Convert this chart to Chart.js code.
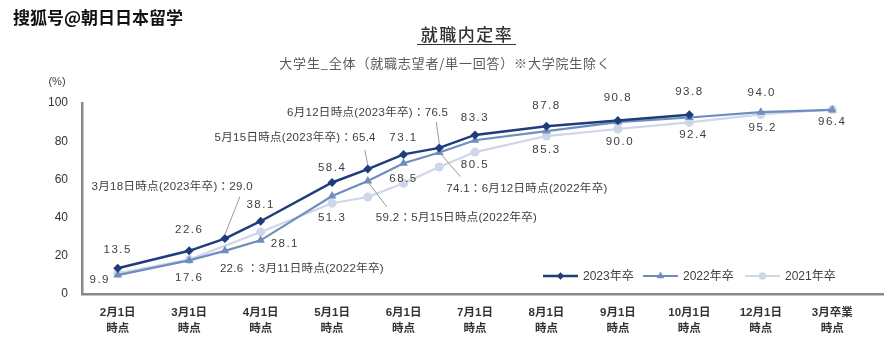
<!DOCTYPE html>
<html>
<head>
<meta charset="utf-8">
<script src="https://cdn.jsdelivr.net/npm/chart.js@4"></script>
<style>
  body { margin: 0; background: #fff; }
  #chart { display: block; }
</style>
</head>
<body>
<canvas id="chart" width="888" height="341"></canvas>
<script>
// x tick labels (one per month slot), second line is always 時点
const categories = ['2月1日', '3月1日', '4月1日', '5月1日', '6月1日', '7月1日', '8月1日', '9月1日', '10月1日', '12月1日', '3月卒業']

// slot positions: half steps are mid-month survey dates
const pos2023 = [0, 1, 1.5, 2, 3, 3.5, 4, 4.5, 5, 6, 7, 8]
const rate2023 = [13.5, 22.6, 29.0, 38.1, 58.4, 65.4, 73.1, 76.5, 83.3, 87.8, 90.8, 93.8]

const pos2022 = [0, 1, 1.5, 2, 3, 3.5, 4, 4.5, 5, 6, 7, 8, 9, 10]
const rate2022 = [9.9, 17.6, 22.6, 28.1, 51.3, 59.2, 68.5, 74.1, 80.5, 85.3, 90.0, 92.4, 95.2, 96.4]

const pos2021 = [0, 1, 2, 3, 3.5, 4, 4.5, 5, 6, 7, 8, 9, 10]
const rate2021 = [10.8, 18.0, 32.5, 47.5, 50.8, 58.0, 66.5, 74.3, 82.7, 86.4, 89.9, 94.0, 96.6]

const seriesNames = ['2023年卒', '2022年卒', '2021年卒']
const yTicks = [0, 20, 40, 60, 80, 100]

const FONT = '"Liberation Sans", "Noto Sans CJK JP", sans-serif'
const TEXT = '#404040'

const toPoints = (pos, vals) => pos.map((p, i) => ({ x: p, y: vals[i] }))

// value labels: ds = dataset index, i = point index
const labels = [
  { ds: 0, i: 0, dx: 0, dy: -18 },
  { ds: 0, i: 1, dx: 0, dy: -21 },
  { ds: 0, i: 2, dx: 28, dy: -52, align: 'right', before: '3月18日時点(2023年卒)：', lead: [15, -42, 0, -4] },
  { ds: 0, i: 3, dx: 0, dy: -16 },
  { ds: 0, i: 4, dx: 0, dy: -15 },
  { ds: 0, i: 5, dx: 8, dy: -31, align: 'right', before: '5月15日時点(2023年卒)：', lead: [-3, -19, 0, -4] },
  { ds: 0, i: 6, dx: 0, dy: -17 },
  { ds: 0, i: 7, dx: 9, dy: -35, align: 'right', before: '6月12日時点(2023年卒)：', lead: [-3, -26, 0, -4] },
  { ds: 0, i: 8, dx: 0, dy: -17 },
  { ds: 0, i: 9, dx: 0, dy: -20 },
  { ds: 0, i: 10, dx: 0, dy: -23 },
  { ds: 0, i: 11, dx: 0, dy: -23 },
  { ds: 1, i: 0, dx: -18, dy: 5 },
  { ds: 1, i: 1, dx: 0, dy: 17 },
  { ds: 1, i: 2, dx: -5, dy: 18, align: 'left', after: ' ：3月11日時点(2022年卒)' },
  { ds: 1, i: 3, dx: 10, dy: 3, align: 'left' },
  { ds: 1, i: 4, dx: 0, dy: 22 },
  { ds: 1, i: 5, dx: 8, dy: 37, align: 'left', after: '：5月15日時点(2022年卒)', lead: [1, 2, 19, 26] },
  { ds: 1, i: 6, dx: 0, dy: 16 },
  { ds: 1, i: 7, dx: 7, dy: 36, align: 'left', after: '：6月12日時点(2022年卒)', lead: [2, 2, 21, 24] },
  { ds: 1, i: 8, dx: 0, dy: 25 },
  { ds: 1, i: 9, dx: 0, dy: 19 },
  { ds: 1, i: 10, dx: 2, dy: 20 },
  { ds: 1, i: 11, dx: 4, dy: 17 },
  { ds: 1, i: 12, dx: 2, dy: 16 },
  { ds: 1, i: 13, dx: 0, dy: 12 },
  { ds: 2, i: 11, dx: 1, dy: -22 }
]

const labelPlugin = {
  id: 'valueLabels',
  afterDatasetsDraw(chart) {
    const ctx = chart.ctx
    ctx.save()
    ctx.font = '11.5px ' + FONT
    ctx.fillStyle = TEXT
    ctx.textBaseline = 'middle'
    labels.forEach(l => {
      const pt = chart.getDatasetMeta(l.ds).data[l.i]
      const v = chart.data.datasets[l.ds].data[l.i].y
      const txt = (l.before || '') + v.toFixed(1) + (l.after || '')
      if (l.lead) {
        ctx.strokeStyle = '#9a9a9a'
        ctx.lineWidth = 1
        ctx.beginPath()
        ctx.moveTo(pt.x + l.lead[0], pt.y + l.lead[1])
        ctx.lineTo(pt.x + l.lead[2], pt.y + l.lead[3])
        ctx.stroke()
      }
      ctx.letterSpacing = l.before || l.after ? '0.3px' : '1.5px'
      ctx.textAlign = l.align || 'center'
      ctx.fillText(txt, pt.x + l.dx, pt.y + l.dy)
    })
    ctx.restore()
  }
}

// header text, legend
const headerPlugin = {
  id: 'header',
  afterDraw(chart) {
    const ctx = chart.ctx
    ctx.save()
    ctx.textBaseline = 'middle'

    ctx.font = 'bold 17px "Noto Sans CJK SC", sans-serif'
    ctx.lineWidth = 3
    ctx.strokeStyle = '#fff'
    ctx.fillStyle = '#111'
    ctx.strokeText('搜狐号@朝日日本留学', 13, 18)
    ctx.fillText('搜狐号@朝日日本留学', 13, 18)

    ctx.textAlign = 'center'
    ctx.fillStyle = '#333'
    ctx.font = '500 17px "Noto Sans CJK JP", sans-serif'
    ctx.letterSpacing = '1.5px'
    ctx.fillText('就職内定率', 467, 35)
    ctx.fillRect(417, 44, 99, 1)

    ctx.fillStyle = '#5a5a5a'
    ctx.font = '13px "Noto Sans CJK JP", sans-serif'
    ctx.letterSpacing = '0.8px'
    ctx.fillText('大学生_全体（就職志望者/単一回答）※大学院生除く', 445, 63)

    ctx.letterSpacing = '0px'
    ctx.fillStyle = TEXT
    ctx.font = '11px ' + FONT
    ctx.fillText('(%)', 57, 82)

    // legend
    ctx.textAlign = 'left'
    ctx.font = '12px ' + FONT
    const lx = [543, 643, 745]
    chart.data.datasets.forEach((ds, k) => {
      const x = lx[k], y = 276
      ctx.strokeStyle = ds.borderColor
      ctx.fillStyle = ds.backgroundColor
      ctx.lineWidth = ds.borderWidth
      ctx.beginPath()
      ctx.moveTo(x, y)
      ctx.lineTo(x + 35, y)
      ctx.stroke()
      ctx.lineWidth = 0.5
      Chart.helpers.drawPoint(ctx, {
        pointStyle: ds.pointStyle, radius: ds.pointRadius - 1, rotation: 0, borderWidth: 0.5
      }, x + 17.5, y)
      ctx.fillStyle = TEXT
      ctx.fillText(ds.label, x + 40, y + 1)
    })
    ctx.restore()
  }
}

const chart = document.querySelector('#chart').getContext('2d')

new Chart(chart, {
  type: 'line',
  data: {
    datasets: [
      {
        label: seriesNames[0],
        data: toPoints(pos2023, rate2023),
        borderColor: '#1f3d7a',
        backgroundColor: '#1f3d7a',
        borderWidth: 2.5,
        pointStyle: 'rectRot',
        pointRadius: 4.5,
        pointBorderWidth: 0,
        order: 0
      },
      {
        label: seriesNames[1],
        data: toPoints(pos2022, rate2022),
        borderColor: '#6f8dbd',
        backgroundColor: '#6f8dbd',
        borderWidth: 2.2,
        pointStyle: 'triangle',
        pointRadius: 5,
        pointBorderWidth: 0,
        order: 1
      },
      {
        label: seriesNames[2],
        data: toPoints(pos2021, rate2021),
        borderColor: '#cdd7e8',
        backgroundColor: '#cdd7e8',
        borderWidth: 2.2,
        pointStyle: 'circle',
        pointRadius: 4.5,
        pointBorderWidth: 0,
        order: 2
      }
    ]
  },
  options: {
    responsive: false,
    animation: false,
    devicePixelRatio: 1,
    layout: { padding: { top: 103, left: 0, right: 0, bottom: 0 } },
    plugins: { legend: { display: false }, tooltip: { enabled: false } },
    scales: {
      x: {
        type: 'linear',
        min: -0.5,
        max: 10.71,
        grid: { display: false },
        border: { display: true, color: '#8a8a8a', width: 2.5 },
        afterBuildTicks: s => { s.ticks = categories.map((c, i) => ({ value: i })) },
        afterFit: s => { s.height = 47 },
        ticks: {
          autoSkip: false,
          maxRotation: 0,
          padding: 3,
          color: '#333',
          font: { family: FONT, size: 11.5, weight: 'bold', lineHeight: 1.4 },
          callback: v => [categories[v], '時点']
        }
      },
      y: {
        min: 0,
        max: 100,
        grid: { display: false },
        border: { display: true, color: '#8a8a8a', width: 2.5 },
        afterBuildTicks: s => { s.ticks = yTicks.map(v => ({ value: v })) },
        afterFit: s => { s.width = 82 },
        ticks: {
          padding: 6,
          color: '#333',
          font: { family: FONT, size: 12 }
        }
      }
    }
  },
  plugins: [labelPlugin, headerPlugin]
})
</script>
</body>
</html>
